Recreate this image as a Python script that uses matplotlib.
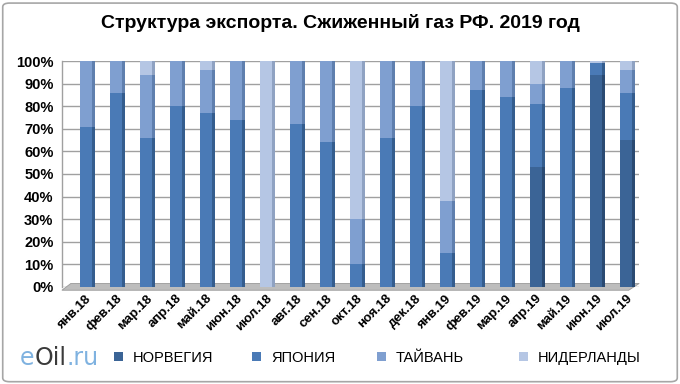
import matplotlib
matplotlib.use("Agg")
import matplotlib.pyplot as plt
import numpy as np
from matplotlib.patches import FancyBboxPatch, Polygon

plt.rcParams['font.family'] = ['Liberation Sans', 'DejaVu Sans']

months = ["янв.18", "фев.18", "мар.18", "апр.18", "май.18", "июн.18", "июл.18",
          "авг.18", "сен.18", "окт.18", "ноя.18", "дек.18", "янв.19", "фев.19",
          "мар.19", "апр.19", "май.19", "июн.19", "июл.19"]
norway = [0, 0, 0, 0, 0, 0, 0, 0, 0, 0, 0, 0, 0, 0, 0, 53, 0, 94, 65]
japan = [71, 86, 66, 80, 77, 74, 0, 72, 64, 10, 66, 80, 15, 87, 84, 28, 88, 5, 21]
taiwan = [29, 14, 28, 20, 19, 26, 0, 28, 36, 20, 34, 20, 23, 13, 16, 9, 12, 0, 10]
netherlands = [0, 0, 6, 0, 4, 0, 100, 0, 0, 70, 0, 0, 62, 0, 0, 10, 0, 1, 4]

series = ["НОРВЕГИЯ", "ЯПОНИЯ", "ТАЙВАНЬ", "НИДЕРЛАНДЫ"]
colors = ["#3b6496", "#4a7ab6", "#7f9fd0", "#b5c6e4"]
side_colors = ["#2a4a72", "#345d8e", "#5f7fae", "#8fa2c2"]

fig = plt.figure(figsize=(6.8, 3.84), dpi=100)
fig.patches.append(FancyBboxPatch((0.004, 0.006), 0.992, 0.986,
                                  boxstyle="round,pad=0,rounding_size=0.01",
                                  transform=fig.transFigure, facecolor="white",
                                  edgecolor="#a6a6a6", linewidth=1.2, zorder=-10))

ax = fig.add_axes([0.091, 0.253, 0.849, 0.588])
x = np.arange(len(months))
w = 0.4
sw = 0.1
bottom = np.zeros(len(months))
handles = []
for vals, c, sc, name in zip([norway, japan, taiwan, netherlands], colors, side_colors, series):
    vals = np.array(vals, dtype=float)
    h = ax.bar(x, vals, w, bottom=bottom, color=c, edgecolor="none", label=name, zorder=3)
    ax.bar(x + w / 2 + sw / 2, vals, sw, bottom=bottom, color=sc, edgecolor="none", zorder=3)
    handles.append(h)
    bottom += vals

ax.set_xlim(-0.8, 18.45)
ax.set_ylim(0, 100)
ax.set_yticks(np.arange(0, 101, 10))
ax.set_yticklabels([f"{v}%" for v in range(0, 101, 10)], fontsize=10.5, fontweight="bold")
ax.set_xticks(x)
ax.set_xticklabels(months, rotation=45, ha="right", rotation_mode="anchor",
                   fontsize=9.5, fontweight="bold")
ax.tick_params(axis="y", length=0, pad=6)
ax.tick_params(axis="x", length=0, pad=4)
ax.grid(axis="y", color="#a0a0a0", linewidth=1.0, zorder=0)
for s in ax.spines.values():
    s.set_visible(False)
ax.plot([-0.8, -0.8], [0, 100], color="#a0a0a0", lw=1.0, zorder=1, clip_on=False)

# floor of the 3D plot
floor = Polygon([(-0.8, -1.5), (18.1, -1.5), (18.45, 1.5), (-0.5, 1.5)],
                closed=True, facecolor="#bdbdbd", edgecolor="#9a9a9a", lw=0.6,
                zorder=2, clip_on=False)
ax.add_patch(floor)

fig.text(0.5, 0.94, "Структура экспорта. Сжиженный газ РФ. 2019 год",
         ha="center", va="center", fontsize=14, fontweight="bold")

# legend entries placed like the original (one per series)
leg_x = [114, 252, 377, 519]
for h, name, lx in zip(handles, series, leg_x):
    lg = fig.legend([h], [name], loc="center left", bbox_to_anchor=(lx / 680, 0.068),
                    frameon=False, fontsize=10.5, handlelength=0.6, handleheight=0.6,
                    handletextpad=0.7, borderaxespad=0, borderpad=0)

# eOil.ru logo
fig.canvas.draw()
r = fig.canvas.get_renderer()
xpos = 20 / 680
for part, col in [("e", "#7fb2e0"), ("Oil", "#3a3a3a"), (".ru", "#7fb2e0")]:
    t = fig.text(xpos, 0.068, part, color=col, fontsize=17, va="center",
                 family="DejaVu Sans")
    bb = t.get_window_extent(renderer=r)
    xpos += bb.width / fig.bbox.width

fig.savefig("out.png", dpi=100)
